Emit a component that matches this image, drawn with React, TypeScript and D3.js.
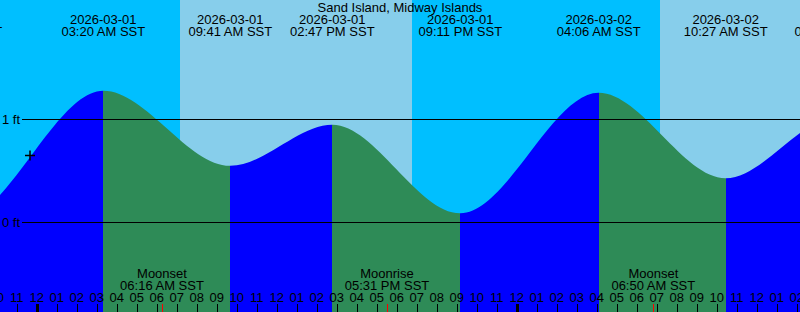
import React from 'react';
import * as d3 from 'd3';

const W = 800;
const H = 312;
const TITLE = 'Sand Island, Midway Islands';
const TZ = 'SST';

// Tide extremes (local time) and heights in feet
const tideTimes = [
  '2026-02-28T13:50',
  '2026-02-28T20:10',
  '2026-03-01T03:20',
  '2026-03-01T09:41',
  '2026-03-01T14:47',
  '2026-03-01T21:11',
  '2026-03-02T04:06',
  '2026-03-02T10:27',
  '2026-03-02T16:00',
  '2026-03-02T22:10',
];
const tideHeights = [0.9, 0.03, 1.28, 0.55, 0.95, 0.09, 1.26, 0.43, 1.02, 0.15];

const sunriseTimes = ['2026-03-01T07:10', '2026-03-02T07:10'];
const sunsetTimes = ['2026-03-01T18:46', '2026-03-02T18:47'];

const moonEvents = ['Moonset', 'Moonrise', 'Moonset'];
const moonTimes = ['2026-03-01T06:16', '2026-03-01T17:31', '2026-03-02T06:50'];

const startTime = '2026-02-28T22:10';
const endTime = '2026-03-02T14:10';

const yTicks = [0, 1];
const yTickLabels = ['0 ft', '1 ft'];

const nowTime = '2026-02-28T23:40';
const nowHeight = 0.65;

const parse = d3.utcParse('%Y-%m-%dT%H:%M');
const fmtDate = d3.utcFormat('%Y-%m-%d');
const fmtTime = d3.utcFormat('%I:%M %p');
const fmtHour = d3.utcFormat('%I');

const FONT = '"Liberation Sans", Arial, sans-serif';

export default function App() {
  const t0 = parse(startTime)!;
  const t1 = parse(endTime)!;
  const x = d3.scaleUtc().domain([t0, t1]).range([0, W]);
  const y = d3.scaleLinear().domain([0, 1]).range([222.5, 119.5]);

  const pts = tideTimes.map((t, i) => ({ t: parse(t)!, h: tideHeights[i] }));
  const area = d3
    .area<{ t: Date; h: number }>()
    .x((d) => x(d.t))
    .y0(H)
    .y1((d) => y(d.h))
    .curve(d3.curveMonotoneX);
  const areaPath = area(pts) || '';

  const hours = d3.utcHour.range(d3.utcHour.floor(t0), d3.utcHour.offset(t1, 1));
  const labelled = pts.filter((p) => x(p.t) > -60 && x(p.t) < W + 60);

  const nowX = x(parse(nowTime)!);
  const nowY = y(nowHeight);

  return (
    <svg
      width={W}
      height={H}
      style={{ position: 'absolute', left: 0, top: 0, display: 'block' }}
      fontFamily={FONT}
    >
      <defs>
        <clipPath id="tideClip">
          <path d={areaPath} />
        </clipPath>
      </defs>
      <rect x={0} y={0} width={W} height={H} fill="#00BFFF" />
      {sunriseTimes.map((s, i) => {
        const a = x(parse(s)!);
        const b = x(parse(sunsetTimes[i])!);
        return <rect key={'d' + i} x={a} y={0} width={b - a} height={H} fill="#87CEEB" />;
      })}
      <g clipPath="url(#tideClip)">
        {pts.slice(0, -1).map((p, i) => {
          const q = pts[i + 1];
          const a = x(p.t);
          const b = x(q.t);
          return (
            <rect
              key={'s' + i}
              x={a}
              y={0}
              width={b - a}
              height={H}
              fill={q.h > p.h ? '#0000FF' : '#2E8B57'}
              shapeRendering="crispEdges"
            />
          );
        })}
      </g>
      {yTicks.map((v, i) => (
        <g key={'y' + i}>
          <line x1={22} x2={W} y1={y(v)} y2={y(v)} stroke="#000" strokeWidth={1} shapeRendering="crispEdges" />
          <text x={20} y={y(v) + 4.5} fontSize={13} textAnchor="end" fill="#000">
            {yTickLabels[i]}
          </text>
        </g>
      ))}
      <text x={W / 2} y={12} fontSize={13} textAnchor="middle" fill="#000">
        {TITLE}
      </text>
      {labelled.map((p, i) => (
        <g key={'h' + i}>
          <text x={x(p.t)} y={24} fontSize={13} textAnchor="middle" fill="#000">
            {fmtDate(p.t)}
          </text>
          <text x={x(p.t)} y={36} fontSize={13} textAnchor="middle" fill="#000">
            {fmtTime(p.t) + ' ' + TZ}
          </text>
        </g>
      ))}
      {moonTimes.map((m, i) => {
        const t = parse(m)!;
        return (
          <g key={'m' + i}>
            <text x={x(t)} y={278} fontSize={13} textAnchor="middle" fill="#000">
              {moonEvents[i]}
            </text>
            <text x={x(t)} y={290} fontSize={13} textAnchor="middle" fill="#000">
              {fmtTime(t) + ' ' + TZ}
            </text>
          </g>
        );
      })}
      {hours.map((hr, i) => {
        const hx = Math.round(x(hr)) + 0.5;
        const midnight = hr.getUTCHours() === 0;
        return (
          <g key={'t' + i}>
            <line
              x1={hx}
              x2={hx}
              y1={304}
              y2={H}
              stroke="#000"
              strokeWidth={midnight ? 3 : 1}
              shapeRendering="crispEdges"
            />
            <text x={x(hr)} y={302} fontSize={13} textAnchor="middle" fill="#000">
              {fmtHour(hr)}
            </text>
          </g>
        );
      })}
      {moonTimes.map((m, i) => {
        const mx = Math.round(x(parse(m)!)) + 0.5;
        return (
          <line key={'r' + i} x1={mx} x2={mx} y1={304} y2={H} stroke="#FF0000" strokeWidth={1} shapeRendering="crispEdges" />
        );
      })}
      <path
        d={`M${nowX - 5},${nowY}H${nowX + 5}M${nowX},${nowY - 5}V${nowY + 5}`}
        stroke="#000"
        strokeWidth={1.5}
        fill="none"
      />
    </svg>
  );
}
